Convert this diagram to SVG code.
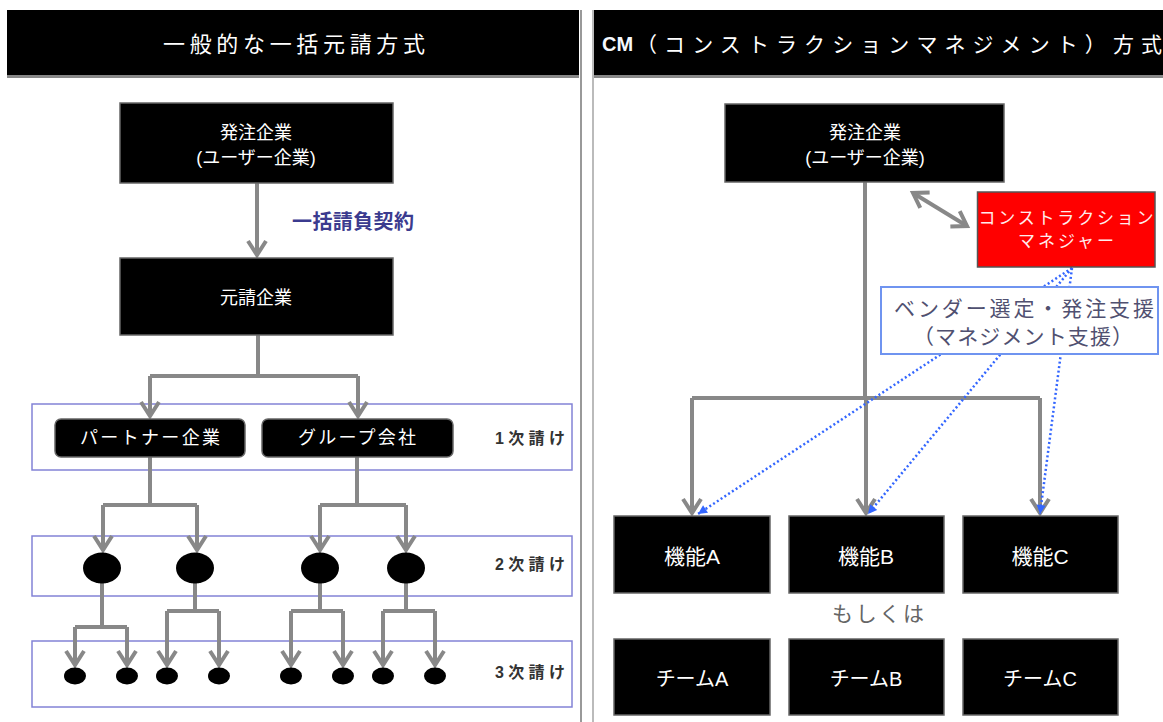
<svg xmlns="http://www.w3.org/2000/svg" width="1163" height="722" viewBox="0 0 1163 722">
<defs>
<style>
.box{fill:#000;stroke:#666;stroke-width:1.5}
.wt{fill:#fff;font-family:'Liberation Sans','Noto Sans CJK JP',sans-serif;font-size:18px;text-anchor:middle;dominant-baseline:central}
.ln{fill:none;stroke:#888;stroke-width:4}
.arr{marker-end:url(#ah)}
.tier{fill:none;stroke:#8383d6;stroke-width:1.5}
.tl{fill:#333;font-family:'Liberation Sans','Noto Sans CJK JP',sans-serif;font-size:16px;font-weight:bold;dominant-baseline:central}
.dot{fill:none;stroke:#3366ff;stroke-width:2.5;stroke-dasharray:2 2.5;marker-end:url(#bh)}
.hd{fill:#fff;font-family:'Liberation Sans','Noto Sans CJK JP',sans-serif;font-size:22px;dominant-baseline:central}
.gt{font-family:'Liberation Sans','Noto Sans CJK JP',sans-serif;text-anchor:middle;dominant-baseline:central}
.f21{font-size:21px}
.f20{font-size:20px}
.f17{font-size:17px}
</style>
<marker id="ah" markerUnits="userSpaceOnUse" viewBox="-20 -14 24 28" refX="0" refY="0" markerWidth="24" markerHeight="28" orient="auto-start-reverse" overflow="visible">
<path d="M-14,-9 L0,0 L-14,9" fill="none" stroke="#888" stroke-width="4"/>
</marker>
<marker id="bh" markerUnits="userSpaceOnUse" viewBox="-10 -6 12 12" refX="0" refY="0" markerWidth="12" markerHeight="12" orient="auto" overflow="visible">
<path d="M-9,-4.5 L0,0 L-9,4.5 Z" fill="#3366ff"/>
</marker>
</defs>
<rect x="0" y="0" width="1163" height="722" fill="#fff"/>

<g id="frames">
<line x1="581" y1="10" x2="581" y2="722" stroke="#999" stroke-width="2"/>
<line x1="593" y1="10" x2="593" y2="722" stroke="#bbb" stroke-width="2"/>
</g>

<g id="header-left">
<rect x="7" y="10" width="572" height="66" fill="#000"/>
<rect x="7" y="75" width="572" height="3" fill="#888"/>
<text class="hd" x="163" y="44" textLength="262">一般的な一括元請方式</text>
</g>
<g id="header-right">
<rect x="594" y="10" width="569" height="66" fill="#000"/>
<rect x="594" y="75" width="569" height="3" fill="#888"/>
<text class="hd f20" x="602" y="44" font-weight="bold" style="fill:#f4f8ff">CM</text>
<text class="hd f21" x="636" y="44" textLength="526">（コンストラクションマネジメント）方式</text>
</g>

<g id="tiers">
<rect class="tier" x="32" y="404" width="540" height="66"/>
<rect class="tier" x="32" y="536" width="540" height="60"/>
<rect class="tier" x="32" y="641" width="540" height="66"/>
<text class="tl" x="495" y="438" textLength="70">1次請け</text>
<text class="tl" x="495" y="564" textLength="70">2次請け</text>
<text class="tl" x="495" y="672" textLength="70">3次請け</text>
</g>

<g id="connectors">
<line class="ln arr" x1="257" y1="183" x2="257" y2="255"/>
<path class="ln" d="M258,335 V376 M150,376 H358"/>
<line class="ln arr" x1="150" y1="376" x2="150" y2="416"/>
<line class="ln arr" x1="358" y1="376" x2="358" y2="416"/>
<path class="ln" d="M150,457 V505 M103,505 H197 M357,457 V505 M320,505 H406"/>
<line class="ln arr" x1="103" y1="505" x2="103" y2="550"/>
<line class="ln arr" x1="197" y1="505" x2="197" y2="550"/>
<line class="ln arr" x1="320" y1="505" x2="320" y2="550"/>
<line class="ln arr" x1="406" y1="505" x2="406" y2="550"/>
<path class="ln" d="M102,580 V627 M75,627 H127 M195,580 V611 M167,611 H219 M320,580 V611 M291,611 H343 M406,580 V611 M383,611 H435"/>
<line class="ln arr" x1="75" y1="627" x2="75" y2="665"/>
<line class="ln arr" x1="127" y1="627" x2="127" y2="665"/>
<line class="ln arr" x1="167" y1="611" x2="167" y2="665"/>
<line class="ln arr" x1="219" y1="611" x2="219" y2="665"/>
<line class="ln arr" x1="291" y1="611" x2="291" y2="665"/>
<line class="ln arr" x1="343" y1="611" x2="343" y2="665"/>
<line class="ln arr" x1="383" y1="611" x2="383" y2="665"/>
<line class="ln arr" x1="435" y1="611" x2="435" y2="665"/>
<text x="292" y="222" fill="#3b3b8f" font-family="'Liberation Sans','Noto Sans CJK JP',sans-serif" font-size="20" font-weight="bold" dominant-baseline="central" textLength="122">一括請負契約</text>

<path class="ln" d="M865,182 V398 M692,398 H1040"/>
<line class="ln arr" x1="692" y1="398" x2="692" y2="513"/>
<line class="ln arr" x1="866" y1="398" x2="866" y2="513"/>
<line class="ln arr" x1="1040" y1="398" x2="1040" y2="513"/>
<line class="ln" x1="913" y1="193" x2="967" y2="226" marker-start="url(#ah)" marker-end="url(#ah)"/>
<line class="dot" x1="1072" y1="268" x2="698" y2="514"/>
<line class="dot" x1="1072" y1="268" x2="868" y2="514"/>
<line class="dot" x1="1072" y1="268" x2="1040" y2="514"/>
</g>

<g id="l-client">
<rect class="box" x="120" y="103" width="273" height="80"/>
<text class="wt" x="256" y="133">発注企業</text>
<text class="wt" x="256" y="158">(ユーザー企業)</text>
</g>
<g id="l-general">
<rect class="box" x="120" y="258" width="273" height="77"/>
<text class="wt" x="256" y="298">元請企業</text>
</g>
<g id="l-partner">
<rect class="box" x="55" y="419" width="190" height="38" rx="6"/>
<text class="wt" x="150" y="438" textLength="140">パートナー企業</text>
</g>
<g id="l-group">
<rect class="box" x="262" y="419" width="191" height="38" rx="6"/>
<text class="wt" x="357" y="438" textLength="118">グループ会社</text>
</g>
<g id="l-tier2">
<ellipse cx="102" cy="568" rx="19" ry="15.5" fill="#000"/>
<ellipse cx="195" cy="568" rx="19" ry="15.5" fill="#000"/>
<ellipse cx="320" cy="568" rx="19" ry="15.5" fill="#000"/>
<ellipse cx="406" cy="568" rx="19" ry="15.5" fill="#000"/>
</g>
<g id="l-tier3">
<ellipse cx="75" cy="676" rx="11" ry="8.5" fill="#000"/>
<ellipse cx="127" cy="676" rx="11" ry="8.5" fill="#000"/>
<ellipse cx="167" cy="676" rx="11" ry="8.5" fill="#000"/>
<ellipse cx="219" cy="676" rx="11" ry="8.5" fill="#000"/>
<ellipse cx="291" cy="676" rx="11" ry="8.5" fill="#000"/>
<ellipse cx="343" cy="676" rx="11" ry="8.5" fill="#000"/>
<ellipse cx="383" cy="676" rx="11" ry="8.5" fill="#000"/>
<ellipse cx="435" cy="676" rx="11" ry="8.5" fill="#000"/>
</g>

<g id="r-client">
<rect class="box" x="725" y="104" width="279" height="78"/>
<text class="wt" x="865" y="133">発注企業</text>
<text class="wt" x="865" y="158">(ユーザー企業)</text>
</g>
<g id="r-cm">
<rect x="977.5" y="192" width="177.5" height="75" fill="#ff0000" stroke="#555" stroke-width="1.5"/>
<text class="wt f17" x="1066" y="218" style="fill:#ffecec" textLength="175">コンストラクション</text>
<text class="wt f17" x="1066" y="241" style="fill:#ffecec" textLength="96">マネジャー</text>
</g>
<g id="r-support">
<rect x="881" y="287" width="277" height="67" fill="#fff" stroke="#6f94f0" stroke-width="2"/>
<text class="gt" x="1024" y="308" fill="#505070" font-size="21" textLength="260">ベンダー選定・発注支援</text>
<text class="gt" x="1023" y="336" fill="#505070" font-size="21" textLength="220">（マネジメント支援）</text>
</g>
<g id="r-funcA"><rect class="box" x="614" y="516" width="156" height="77"/><text class="wt f21" x="692" y="556">機能A</text></g>
<g id="r-funcB"><rect class="box" x="789" y="516" width="155" height="77"/><text class="wt f21" x="866" y="556">機能B</text></g>
<g id="r-funcC"><rect class="box" x="963" y="516" width="155" height="77"/><text class="wt f21" x="1040" y="556">機能C</text></g>
<text class="gt" x="878" y="613" fill="#666" font-size="21" textLength="92">もしくは</text>
<g id="r-teamA"><rect class="box" x="614" y="639" width="156" height="76"/><text class="wt f20" x="692" y="679">チームA</text></g>
<g id="r-teamB"><rect class="box" x="789" y="639" width="155" height="76"/><text class="wt f20" x="866" y="679">チームB</text></g>
<g id="r-teamC"><rect class="box" x="963" y="639" width="155" height="76"/><text class="wt f20" x="1040" y="679">チームC</text></g>
</svg>
